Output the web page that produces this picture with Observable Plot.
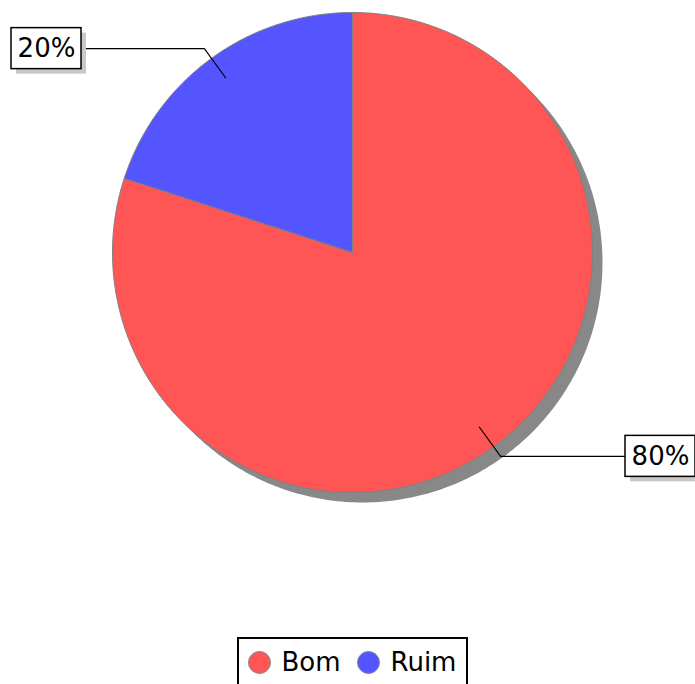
<!DOCTYPE html>
<html><head><meta charset="utf-8">
<script src="https://cdn.jsdelivr.net/npm/d3@7"></script>
<script src="https://cdn.jsdelivr.net/npm/@observablehq/plot@0.6"></script>
<style>body{margin:0;background:#fff} svg{display:block}</style>
</head><body><div id="chart"></div>
<script>
const categories = ["Bom", "Ruim"];
const values = [80, 20];
const sliceLabels = ["80%", "20%"];
const colors = ["#FF5555", "#5555FF"];

// layout (pixels)
const W = 695, H = 684, CX = 352, CY = 252, R = 240;
const ux = px => (px - CX) / R, uy = py => (CY - py) / R;
const FONT = "DejaVu Sans, sans-serif";

const pie = d3.pie().sort(null).startAngle(0).endAngle(2 * Math.PI)(values);
const slices = pie.map((p, i) => {
  const pts = [{x: 0, y: 0}];
  const n = Math.max(4, Math.ceil((p.endAngle - p.startAngle) / 0.01));
  for (let k = 0; k <= n; k++) {
    const a = p.startAngle + (p.endAngle - p.startAngle) * k / n;
    pts.push({x: Math.sin(a), y: Math.cos(a)});
  }
  pts.push({x: 0, y: 0});
  return {cat: categories[i], color: colors[i], label: sliceLabels[i], mid: (p.startAngle + p.endAngle) / 2, pts};
});

const shOff = 10 / R;
const shadow = d3.range(0, 361).map(d => ({x: Math.sin(d * Math.PI / 180) + shOff, y: Math.cos(d * Math.PI / 180) - shOff}));

const boxW = 70 / R, boxH = 41 / R, boxSh = 5 / R;
const leaders = [], boxes = [];
slices.forEach(s => {
  const dx = Math.sin(s.mid), dy = Math.cos(s.mid);
  const p0 = {x: 0.9 * dx, y: 0.9 * dy};
  const p1 = {x: 1.05 * dx, y: 1.05 * dy};
  const left = dx < 0;
  const edge = left ? ux(81) : ux(625);
  leaders.push({cat: s.cat, ...p0}, {cat: s.cat, ...p1}, {cat: s.cat, x: edge, y: p1.y});
  const x1 = left ? edge - boxW : edge, x2 = left ? edge : edge + boxW;
  boxes.push({label: s.label, x1, x2, y1: p1.y - boxH / 2, y2: p1.y + boxH / 2, cx: (x1 + x2) / 2, cy: p1.y});
});

const legendItems = categories.map((c, i) => ({cat: c, color: colors[i], x: ux([259, 368][i]), tx: ux([281, 390][i]), y: uy(662)}));

const marks = [
  Plot.line(shadow, {x: "x", y: "y", fill: "#888888", stroke: "none"}),
  ...slices.map(s => Plot.line(s.pts, {x: "x", y: "y", fill: s.color, stroke: "#808080", strokeWidth: 1, curve: "linear"})),
  Plot.line(leaders, {x: "x", y: "y", z: "cat", stroke: "#000", strokeWidth: 1.2}),
  Plot.rect(boxes, {x1: d => d.x1 + boxSh, x2: d => d.x2 + boxSh, y1: d => d.y1 - boxSh, y2: d => d.y2 - boxSh, fill: "#c8c8c8"}),
  Plot.rect(boxes, {x1: "x1", x2: "x2", y1: "y1", y2: "y2", fill: "#fff", stroke: "#000", strokeWidth: 1.5}),
  Plot.text(boxes, {x: "cx", y: "cy", text: "label", fontSize: 26, fontFamily: FONT, fill: "#000"}),
  Plot.rect([{x1: ux(238), x2: ux(467), y1: uy(720), y2: uy(638)}], {x1: "x1", x2: "x2", y1: "y1", y2: "y2", fill: "none", stroke: "#000", strokeWidth: 2}),
  Plot.dot(legendItems, {x: "x", y: "y", r: 11, fill: "color", stroke: "#888", strokeWidth: 1}),
  Plot.text(legendItems, {x: "tx", y: "y", text: "cat", textAnchor: "start", fontSize: 26, fontFamily: FONT, fill: "#000"})
];

const chart = Plot.plot({
  width: W, height: H, margin: 0,
  x: {domain: [ux(0), ux(W)], axis: null},
  y: {domain: [uy(H), uy(0)], axis: null},
  color: {type: "identity"},
  style: {fontFamily: FONT, background: "#fff"},
  marks
});
document.getElementById("chart").append(chart);
</script>
</body></html>
